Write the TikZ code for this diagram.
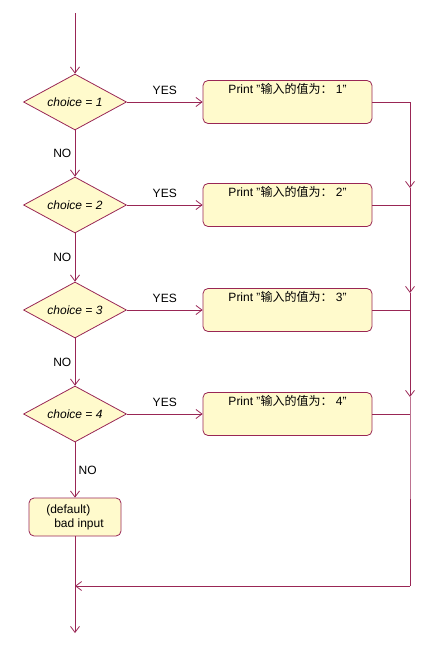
\documentclass[tikz,border=0pt]{standalone}
\usepackage{fontspec}
\setmainfont{Liberation Sans}
\newfontfamily\cjk{Noto Sans CJK SC}
\usetikzlibrary{shapes.geometric,arrows.meta}
\definecolor{flowred}{RGB}{153,38,85}
\definecolor{boxfill}{RGB}{255,250,204}

\begin{document}
\begin{tikzpicture}[x=1pt,y=-1pt,line width=0.8pt,font=\fontsize{12}{14}\selectfont,
  test/.style={diamond,draw=flowred,fill=boxfill,aspect=1.84,minimum width=103pt,minimum height=56pt,inner sep=1pt},
  act/.style={rectangle,rounded corners=5pt,draw=flowred,fill=boxfill,minimum width=169pt,text height=9pt,text depth=27pt,inner ysep=3.5pt},
  dflt/.style={rectangle,rounded corners=5pt,draw=flowred,fill=boxfill,minimum width=92pt,minimum height=38pt,align=left},
  flow/.style={draw=flowred,-{Straight Barb[length=6pt,width=9pt]}},
  link/.style={draw=flowred}]
\useasboundingbox (0,0) rectangle (438,653);
\coordinate (top) at (75,13);
\node (d1) at (75,102) [test] {\textit{choice = 1}};
\node (d2) at (75,205) [test] {\textit{choice = 2}};
\node (d3) at (75,310) [test] {\textit{choice = 3}};
\node (d4) at (75,414) [test] {\textit{choice = 4}};
\node (b1) at (287.5,102) [act] {Print "{\cjk 输入的值为：} 1"};
\node (b2) at (287.5,205) [act] {Print "{\cjk 输入的值为：} 2"};
\node (b3) at (287.5,310) [act] {Print "{\cjk 输入的值为：} 3"};
\node (b4) at (287.5,414) [act] {Print "{\cjk 输入的值为：} 4"};
\node (default) at (75,517) [dflt] {(default)\\\hspace{8pt}bad input};
\coordinate (r1) at (410,102);
\coordinate (r2) at (410,205);
\coordinate (r3) at (410,310);
\coordinate (r4) at (410,414);
\coordinate (a1) at (410,188);
\coordinate (a2) at (410,293);
\coordinate (a3) at (410,397);
\coordinate (corner) at (410,586);
\coordinate (merge) at (75,586);
\coordinate (bottom) at (75,633);
\draw [flow] (top) -- (d1);
\draw [flow] (d1) -- node [above=4pt] {YES} (b1);
\draw [flow] (d2) -- node [above=4pt] {YES} (b2);
\draw [flow] (d3) -- node [above=4pt] {YES} (b3);
\draw [flow] (d4) -- node [above=4pt] {YES} (b4);
\draw [flow] (d1) -- node [left] {NO} (d2);
\draw [flow] (d2) -- node [left] {NO} (d3);
\draw [flow] (d3) -- node [left] {NO} (d4);
\draw [flow] (d4) -- node [right] {NO} (default);
\draw [link] (b1) -- (r1);
\draw [link] (b2) -- (r2);
\draw [link] (b3) -- (r3);
\draw [link] (b4) -- (r4);
\draw [flow] (r1) -- (a1);
\draw [link] (a1) -- (r2);
\draw [flow] (r2) -- (a2);
\draw [link] (a2) -- (r3);
\draw [flow] (r3) -- (a3);
\draw [link] (a3) -- (r4) -- (corner);
\draw [flow] (corner) -- (merge);
\draw [flow] (default) -- (bottom);
\end{tikzpicture}
\end{document}
